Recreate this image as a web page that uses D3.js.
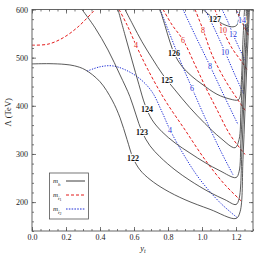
<!DOCTYPE html>
<html><head><meta charset="utf-8">
<script src="https://cdn.jsdelivr.net/npm/d3@7"></script>
<style>body{margin:0;background:#fff}svg{display:block}</style>
</head><body>
<svg id="c" width="261" height="258"></svg>
<script>
// ---- data (y_t, Lambda in TeV) ----
const xTicks = [0, 0.2, 0.4, 0.6, 0.8, 1.0, 1.2];
const yTicks = [200, 300, 400, 500, 600];
const xDomain = [0, 1.3];
const yDomain = [140, 600];

const higgs122 = [[0,487],[0.1,487.5],[0.194,486],[0.25,483],[0.312,475],[0.4,450],[0.471,412],[0.518,375],[0.559,330],[0.594,292],[0.635,267],[0.694,247],[0.782,226],[0.9,205],[1.047,185],[1.2,166],[1.224,180],[1.241,288],[1.253,392],[1.265,495],[1.279,600]];
const higgs123 = [[0.294,600],[0.371,562],[0.447,516],[0.518,464],[0.576,419],[0.612,381],[0.647,346],[0.694,317],[0.753,294],[0.841,267],[0.929,245],[1.047,220],[1.135,205],[1.2,195],[1.218,207],[1.235,309],[1.247,412],[1.259,506],[1.274,600]];
const higgs124 = [[0.506,600],[0.547,547],[0.588,495],[0.629,444],[0.665,402],[0.706,371],[0.765,346],[0.841,323],[0.929,302],[1.018,282],[1.106,265],[1.2,251],[1.218,263],[1.229,330],[1.241,413],[1.253,495],[1.268,600]];
const higgs125 = [[0.547,600],[0.594,568],[0.647,533],[0.706,499],[0.771,464],[0.841,433],[0.929,396],[1.018,363],[1.106,334],[1.194,313],[1.218,330],[1.229,392],[1.241,475],[1.262,600]];
const higgs126 = [[0.753,600],[0.782,567],[0.812,532],[0.841,505],[0.882,482],[0.941,461],[1.0,445],[1.088,424],[1.165,414],[1.212,412],[1.224,419],[1.232,454],[1.241,537],[1.25,600]];
const higgs127 = [[1.006,600],[1.035,591],[1.076,580],[1.135,568],[1.182,564],[1.206,568],[1.218,589],[1.224,600]];

const stop1_4a = [[0,526],[0.094,528],[0.182,541],[0.271,564],[0.371,600]];
const stop1_4b = [[0.512,600],[0.559,568],[0.612,526],[0.682,475],[0.782,412],[0.9,350],[1.018,288],[1.135,236],[1.235,201]];
const stop1_6 = [[0.771,600],[0.824,568],[0.888,537],[0.959,485],[1.029,433],[1.088,392],[1.165,340],[1.253,299]];
const stop1_8 = [[0.959,600],[1.006,558],[1.059,506],[1.135,454],[1.212,412],[1.259,388]];
const stop1_10 = [[1.076,600],[1.118,562],[1.176,520],[1.235,491],[1.265,475]];
const stop1_12 = [[1.2,600],[1.235,574],[1.271,547]];

const stop2_4 = [[0.324,472],[0.4,481],[0.471,483],[0.547,475],[0.635,456],[0.706,429],[0.765,387],[0.812,350],[0.9,294],[0.988,247],[1.106,199],[1.206,168]];
const stop2_6 = [[0.753,600],[0.824,537],[0.882,485],[0.941,437],[1.018,375],[1.106,309],[1.182,257]];
const stop2_8 = [[0.888,600],[0.959,547],[1.047,483],[1.135,417],[1.212,361]];
const stop2_10 = [[1.018,600],[1.076,558],[1.135,512],[1.194,464],[1.247,423]];
const stop2_12 = [[1.118,600],[1.153,574],[1.182,549],[1.224,516],[1.259,491]];
const stop2_14 = [[1.2,600],[1.235,578],[1.271,553]];

const higgsLabels = [["122",0.594,292],["123",0.647,346],["124",0.676,392],["125",0.794,454],["126",0.835,510],["127",1.076,580]];
const stop1Labels = [["4",0.612,526],["6",0.888,537],["8",1.006,558],["10",1.124,556]];
const stop2Labels = [["4",0.812,350],["6",0.941,437],["8",1.047,483],["10",1.135,512],["12",1.182,549],["14",1.235,578]];

// ---- chart ----
const svg = d3.select("#c");
const L = 32, R = 253, T = 9.5, B = 231;
const x = d3.scaleLinear(xDomain, [L, R]);
const y = d3.scaleLinear(yDomain, [B, T]);
const serif = "'Liberation Serif','DejaVu Serif',serif";

svg.append("defs").append("clipPath").attr("id","clip")
  .append("rect").attr("x",L).attr("y",T).attr("width",R-L).attr("height",B-T);

const line = d3.line().x(d=>x(d[0])).y(d=>y(d[1])).curve(d3.curveCatmullRom.alpha(0.5));
const g = svg.append("g").attr("clip-path","url(#clip)");

const higgsCurves = [higgs122,higgs123,higgs124,higgs125,higgs126,higgs127];
const stop1Curves = [stop1_4a,stop1_4b,stop1_6,stop1_8,stop1_10,stop1_12];
const stop2Curves = [stop2_4,stop2_6,stop2_8,stop2_10,stop2_12,stop2_14];

g.selectAll(".s2").data(stop2Curves).join("path")
  .attr("d",line).attr("fill","none").attr("stroke","#1f2fd6")
  .attr("stroke-width",1).attr("stroke-dasharray","1.3,1.3");
g.selectAll(".s1").data(stop1Curves).join("path")
  .attr("d",line).attr("fill","none").attr("stroke","#e31a1a")
  .attr("stroke-width",1).attr("stroke-dasharray","3,2");
g.selectAll(".h").data(higgsCurves).join("path")
  .attr("d",line).attr("fill","none").attr("stroke","#3c3c3c")
  .attr("stroke-width",0.85);

function labels(arr, color, weight){
  g.append("g").selectAll("text").data(arr).join("text")
    .attr("x",d=>x(d[1])).attr("y",d=>y(d[2]))
    .attr("text-anchor","middle").attr("dy","0.35em")
    .attr("font-family",serif).attr("font-size",8).attr("font-weight",weight)
    .attr("fill",color).attr("stroke","#fff").attr("stroke-width",2)
    .attr("paint-order","stroke")
    .text(d=>d[0]);
}
labels(stop2Labels,"#1f2fd6","normal");
labels(stop1Labels,"#e31a1a","normal");
labels(higgsLabels,"#111","bold");

// axes with inward ticks
function minor(step, dom){ return d3.range(dom[0], dom[1]+1e-9, step); }
const xMinor = minor(0.05, xDomain);
const yMinor = minor(20, yDomain);

const axColor = "#555";
function styleAxis(sel){
  sel.select(".domain").remove();
  sel.selectAll("line").attr("stroke",axColor).attr("stroke-width",0.8);
  sel.selectAll("text").attr("font-family",serif).attr("font-size",8).attr("fill","#222");
}
svg.append("g").attr("transform",`translate(0,${B})`)
  .call(d3.axisBottom(x).tickValues(xTicks).tickSize(-4).tickPadding(3).tickFormat(d3.format(".1f"))).call(styleAxis);
svg.append("g").attr("transform",`translate(0,${B})`)
  .call(d3.axisBottom(x).tickValues(xMinor).tickSize(-2).tickFormat("")).call(styleAxis);
svg.append("g").attr("transform",`translate(0,${T})`)
  .call(d3.axisTop(x).tickValues(xTicks).tickSize(-4).tickFormat("")).call(styleAxis);
svg.append("g").attr("transform",`translate(0,${T})`)
  .call(d3.axisTop(x).tickValues(xMinor).tickSize(-2).tickFormat("")).call(styleAxis);
svg.append("g").attr("transform",`translate(${L},0)`)
  .call(d3.axisLeft(y).tickValues(yTicks).tickSize(-4).tickPadding(4)).call(styleAxis);
svg.append("g").attr("transform",`translate(${L},0)`)
  .call(d3.axisLeft(y).tickValues(yMinor).tickSize(-2).tickFormat("")).call(styleAxis);
svg.append("g").attr("transform",`translate(${R},0)`)
  .call(d3.axisRight(y).tickValues(yTicks).tickSize(-4).tickFormat("")).call(styleAxis);
svg.append("g").attr("transform",`translate(${R},0)`)
  .call(d3.axisRight(y).tickValues(yMinor).tickSize(-2).tickFormat("")).call(styleAxis);

svg.append("rect").attr("x",L).attr("y",T).attr("width",R-L).attr("height",B-T)
  .attr("fill","none").attr("stroke",axColor).attr("stroke-width",0.9);

// axis titles
svg.append("text").attr("transform",`translate(11,${(T+B)/2 - 8}) rotate(-90)`)
  .attr("text-anchor","middle").attr("font-family",serif).attr("font-size",8.5).attr("fill","#222")
  .text("Λ (TeV)");
const xt = svg.append("text").attr("x",143).attr("y",251).attr("text-anchor","middle")
  .attr("font-family",serif).attr("font-size",8.5).attr("fill","#222").attr("font-style","italic");
xt.append("tspan").text("y");
xt.append("tspan").attr("font-size",6).attr("dy",1.5).text("t");

// legend
const lg = svg.append("g");
lg.append("rect").attr("x",49.5).attr("y",173).attr("width",39).attr("height",46)
  .attr("fill","#fff").attr("stroke","#555").attr("stroke-width",0.8);
const legendItems = [
  {sub:"h", sub2:"", color:"#3c3c3c", dash:null, yy:182},
  {sub:"t\u0303", sub2:"1", color:"#e31a1a", dash:"3,2", yy:196},
  {sub:"t\u0303", sub2:"2", color:"#1f2fd6", dash:"1.6,1.2", yy:210}
];
legendItems.forEach(it=>{
  const t = lg.append("text").attr("x",53).attr("y",it.yy+1)
    .attr("font-family",serif).attr("font-size",7).attr("font-style","italic").attr("fill","#222");
  t.append("tspan").text("m");
  t.append("tspan").attr("font-size",5).attr("dy",2.5).text(it.sub);
  if(it.sub2) t.append("tspan").attr("font-size",4).attr("font-style","normal").attr("dy",1.5).text(it.sub2);
  lg.append("line").attr("x1",66).attr("x2",85).attr("y1",it.yy-1).attr("y2",it.yy-1)
    .attr("stroke",it.color).attr("stroke-width",1).attr("stroke-dasharray",it.dash);
});
</script>
</body></html>
